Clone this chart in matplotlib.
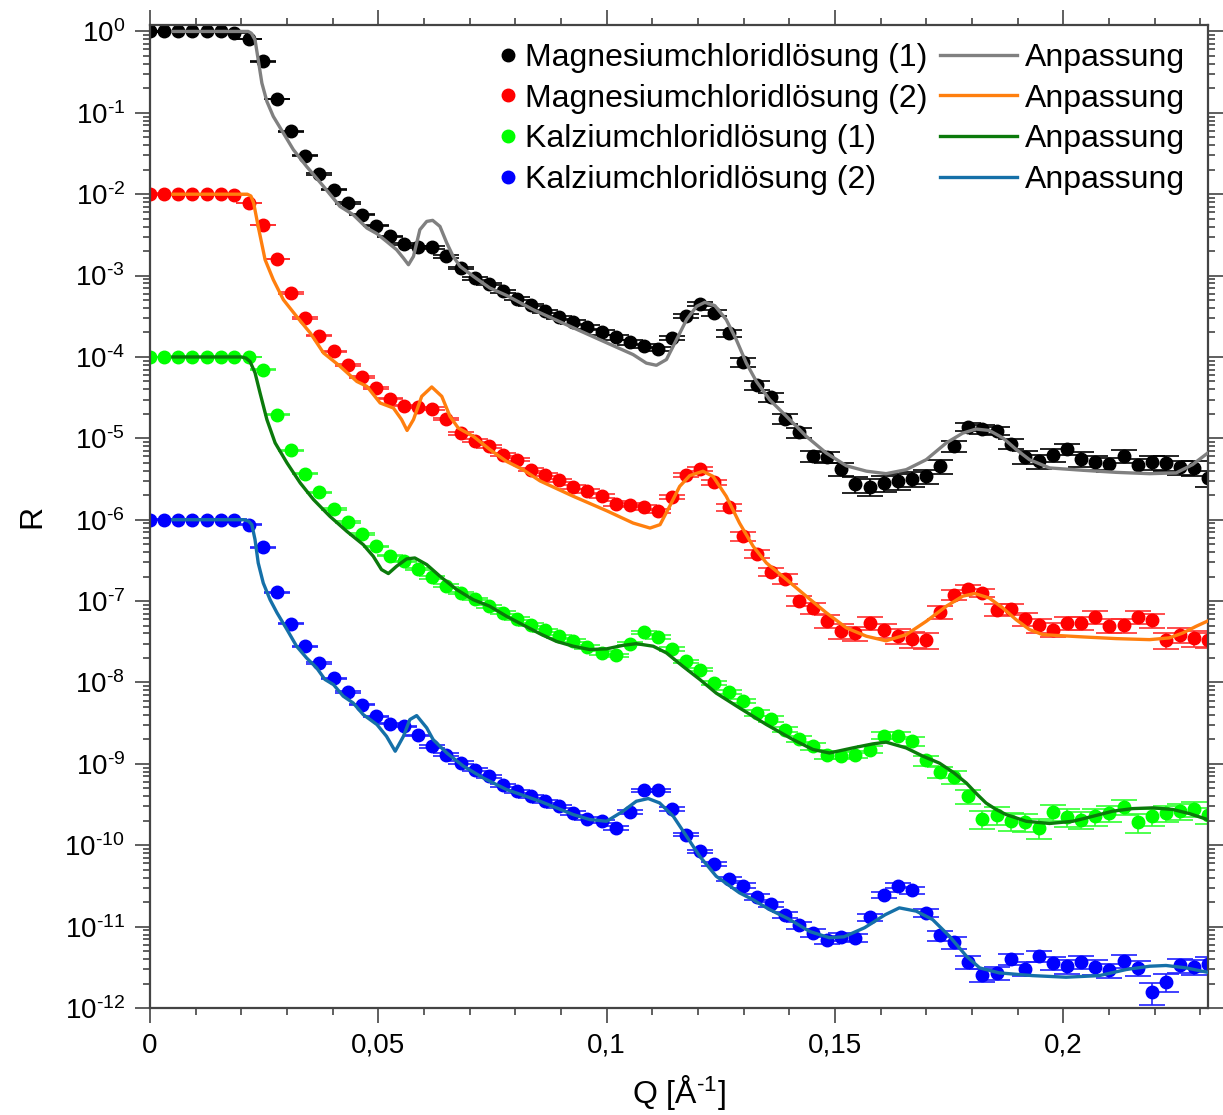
import numpy as np
import matplotlib
matplotlib.use("Agg")
import matplotlib.pyplot as plt
from matplotlib.lines import Line2D
from matplotlib.ticker import FixedLocator, LogLocator, NullFormatter, FuncFormatter

plt.rcParams['font.family'] = ['Liberation Sans', 'DejaVu Sans']
plt.rcParams['mathtext.fontset'] = 'custom'
plt.rcParams['mathtext.rm'] = 'Liberation Sans'
plt.rcParams['mathtext.it'] = 'Liberation Sans:italic'
plt.rcParams['mathtext.default'] = 'regular'

# Q-Raster der Messpunkte (1/Å)
q = [0.0000, 0.0031, 0.0062, 0.0093, 0.0124, 0.0155, 0.0185, 0.0216, 0.0247, 0.0278,
     0.0309, 0.0340, 0.0371, 0.0402, 0.0433, 0.0464, 0.0494, 0.0525, 0.0556, 0.0587,
     0.0618, 0.0649, 0.0680, 0.0711, 0.0742, 0.0773, 0.0803, 0.0834, 0.0865, 0.0896,
     0.0927, 0.0958, 0.0989, 0.1020, 0.1051, 0.1082, 0.1112, 0.1143, 0.1174, 0.1205,
     0.1236, 0.1267, 0.1298, 0.1329, 0.1360, 0.1391, 0.1421, 0.1452, 0.1483, 0.1514,
     0.1545, 0.1576, 0.1607, 0.1638, 0.1669, 0.1700, 0.1730, 0.1761, 0.1792, 0.1823,
     0.1854, 0.1885, 0.1916, 0.1947, 0.1978, 0.2009, 0.2039, 0.2070, 0.2101, 0.2132,
     0.2163, 0.2194, 0.2225, 0.2256, 0.2287, 0.2318]

# Magnesiumchloridlösung (1)
r_mg1 = [1.0, 1.0, 1.0, 1.0, 1.0, 1.0, 0.97, 0.81, 0.43, 0.148,
         0.059, 0.0297, 0.0177, 0.01135, 0.0078, 0.0056, 0.0041, 0.00303, 0.00245, 0.00225,
         0.00223, 0.00172, 0.00124, 0.00093, 0.00079, 0.00064, 0.00052, 0.000435, 0.000363, 0.000307,
         0.000269, 0.000233, 0.0002, 0.000174, 0.000151, 0.000138, 0.000126, 0.000171, 0.000321, 0.000448,
         0.000347, 0.000197, 8.6e-5, 4.48e-5, 3.2e-5, 1.75e-5, 1.19e-5, 6.1e-6, 5.9e-6, 4.2e-6,
         2.76e-6, 2.55e-6, 2.8e-6, 2.95e-6, 3.2e-6, 3.41e-6, 4.53e-6, 7.98e-6, 1.38e-5, 1.3e-5,
         1.24e-5, 8.6e-6, 5.85e-6, 5.2e-6, 6.3e-6, 7.4e-6, 5.6e-6, 5.1e-6, 4.84e-6, 6.1e-6,
         4.66e-6, 5.1e-6, 4.99e-6, 4.4e-6, 4.33e-6, 3.27e-6]

# Magnesiumchloridlösung (2)
r_mg2 = [0.0101, 0.01, 0.01, 0.01, 0.01, 0.01, 0.0099, 0.0078, 0.0042, 0.0016,
         6.1e-4, 3.0e-4, 1.83e-4, 1.17e-4, 8.0e-5, 5.7e-5, 4.16e-5, 3.07e-5, 2.52e-5, 2.4e-5,
         2.32e-5, 1.73e-5, 1.16e-5, 9.4e-6, 7.97e-6, 6.3e-6, 5.47e-6, 4.12e-6, 3.58e-6, 3.05e-6,
         2.53e-6, 2.28e-6, 1.94e-6, 1.58e-6, 1.52e-6, 1.42e-6, 1.29e-6, 1.9e-6, 3.58e-6, 4.24e-6,
         2.88e-6, 1.42e-6, 6.25e-7, 3.83e-7, 2.3e-7, 1.89e-7, 1.0e-7, 8.2e-8, 5.65e-8, 4.3e-8,
         4.06e-8, 5.4e-8, 4.4e-8, 3.77e-8, 3.4e-8, 3.3e-8, 7.3e-8, 1.2e-7, 1.42e-7, 1.26e-7,
         7.85e-8, 8.0e-8, 6.1e-8, 5.04e-8, 4.47e-8, 5.4e-8, 5.4e-8, 6.4e-8, 5.0e-8, 5.04e-8,
         6.4e-8, 5.8e-8, 3.3e-8, 3.87e-8, 3.53e-8, 3.36e-8]

# Kalziumchloridlösung (1)
r_ca1 = [1e-4, 1e-4, 1e-4, 1e-4, 1e-4, 1e-4, 1e-4, 1e-4, 7.0e-5, 1.95e-5,
         7.1e-6, 3.68e-6, 2.17e-6, 1.36e-6, 9.4e-7, 6.7e-7, 4.7e-7, 3.62e-7, 3.08e-7, 2.48e-7,
         1.96e-7, 1.55e-7, 1.26e-7, 1.06e-7, 8.65e-8, 7.2e-8, 6.1e-8, 5.14e-8, 4.38e-8, 3.7e-8,
         3.27e-8, 2.74e-8, 2.31e-8, 2.16e-8, 3.0e-8, 4.14e-8, 3.63e-8, 2.59e-8, 1.82e-8, 1.44e-8,
         9.9e-9, 7.6e-9, 5.9e-9, 4.23e-9, 3.6e-9, 2.64e-9, 2.03e-9, 1.64e-9, 1.29e-9, 1.26e-9,
         1.3e-9, 1.5e-9, 2.23e-9, 2.23e-9, 1.9e-9, 1.11e-9, 7.9e-10, 6.9e-10, 4.0e-10, 2.13e-10,
         2.38e-10, 2.01e-10, 1.92e-10, 1.64e-10, 2.57e-10, 2.23e-10, 2.07e-10, 2.27e-10, 2.5e-10, 2.96e-10,
         1.92e-10, 2.27e-10, 2.5e-10, 2.62e-10, 2.8e-10, 2.34e-10]

# Kalziumchloridlösung (2)
r_ca2 = [1e-6, 1e-6, 1e-6, 1e-6, 1e-6, 1e-6, 1e-6, 8.7e-7, 4.58e-7, 1.28e-7,
         5.3e-8, 2.79e-8, 1.74e-8, 1.12e-8, 7.6e-9, 5.36e-9, 3.85e-9, 3.13e-9, 2.9e-9, 2.25e-9,
         1.64e-9, 1.3e-9, 1.03e-9, 8.5e-10, 7.05e-10, 5.46e-10, 4.6e-10, 4.0e-10, 3.47e-10, 3.0e-10,
         2.5e-10, 2.13e-10, 1.97e-10, 1.64e-10, 2.57e-10, 4.74e-10, 4.74e-10, 2.8e-10, 1.35e-10, 8.4e-11,
         5.9e-11, 3.86e-11, 3.2e-11, 2.3e-11, 1.87e-11, 1.4e-11, 1.05e-11, 8.4e-12, 6.9e-12, 7.5e-12,
         7.3e-12, 1.3e-11, 2.47e-11, 3.2e-11, 2.78e-11, 1.48e-11, 7.8e-12, 6.4e-12, 3.69e-12, 2.58e-12,
         2.7e-12, 4.0e-12, 3.05e-12, 4.33e-12, 3.59e-12, 3.26e-12, 3.69e-12, 3.2e-12, 2.91e-12, 3.76e-12,
         3.11e-12, 1.56e-12, 2.07e-12, 3.33e-12, 3.2e-12, 3.48e-12]

# relative Fehler (dR/R)
e_mg1 = [0.01, 0.01, 0.01, 0.01, 0.01, 0.01, 0.01, 0.01, 0.01, 0.01,
         0.02, 0.02, 0.02, 0.02, 0.02, 0.02, 0.02, 0.02, 0.02, 0.02,
         0.04, 0.04, 0.04, 0.04, 0.04, 0.04, 0.04, 0.04, 0.04, 0.04,
         0.06, 0.06, 0.06, 0.06, 0.06, 0.06, 0.06, 0.06, 0.06, 0.06,
         0.08, 0.10, 0.12, 0.12, 0.12, 0.14, 0.14, 0.16, 0.16, 0.18,
         0.22, 0.24, 0.22, 0.22, 0.22, 0.2, 0.2, 0.16, 0.12, 0.12,
         0.12, 0.14, 0.18, 0.2, 0.18, 0.16, 0.2, 0.2, 0.2, 0.18,
         0.2, 0.2, 0.2, 0.2, 0.2, 0.22]
e_mg2 = [0.01, 0.01, 0.01, 0.01, 0.01, 0.01, 0.01, 0.01, 0.01, 0.01,
         0.02, 0.02, 0.02, 0.02, 0.02, 0.02, 0.02, 0.02, 0.02, 0.02,
         0.04, 0.04, 0.04, 0.04, 0.04, 0.04, 0.04, 0.04, 0.04, 0.04,
         0.06, 0.06, 0.06, 0.06, 0.06, 0.06, 0.06, 0.06, 0.06, 0.06,
         0.08, 0.10, 0.12, 0.12, 0.12, 0.14, 0.14, 0.16, 0.18, 0.2,
         0.2, 0.18, 0.2, 0.22, 0.22, 0.22, 0.18, 0.14, 0.12, 0.12,
         0.16, 0.16, 0.18, 0.2, 0.2, 0.18, 0.18, 0.18, 0.2, 0.2,
         0.18, 0.2, 0.22, 0.22, 0.22, 0.22]
e_ca1 = [0.01, 0.01, 0.01, 0.01, 0.01, 0.01, 0.01, 0.01, 0.01, 0.01,
         0.02, 0.02, 0.02, 0.02, 0.02, 0.02, 0.02, 0.02, 0.02, 0.02,
         0.04, 0.04, 0.04, 0.04, 0.04, 0.04, 0.04, 0.04, 0.04, 0.04,
         0.05, 0.05, 0.05, 0.05, 0.05, 0.05, 0.05, 0.05, 0.05, 0.05,
         0.06, 0.06, 0.06, 0.08, 0.08, 0.08, 0.08, 0.1, 0.1, 0.1,
         0.1, 0.1, 0.1, 0.1, 0.12, 0.14, 0.16, 0.18, 0.2, 0.25,
         0.25, 0.25, 0.25, 0.28, 0.22, 0.24, 0.24, 0.24, 0.22, 0.2,
         0.26, 0.24, 0.22, 0.22, 0.2, 0.22]
e_ca2 = [0.01, 0.01, 0.01, 0.01, 0.01, 0.01, 0.01, 0.01, 0.01, 0.01,
         0.02, 0.02, 0.02, 0.02, 0.02, 0.02, 0.02, 0.02, 0.02, 0.02,
         0.04, 0.04, 0.04, 0.04, 0.04, 0.04, 0.04, 0.04, 0.04, 0.04,
         0.05, 0.05, 0.05, 0.05, 0.05, 0.05, 0.05, 0.05, 0.05, 0.05,
         0.06, 0.06, 0.06, 0.08, 0.08, 0.08, 0.1, 0.12, 0.12, 0.12,
         0.12, 0.1, 0.08, 0.08, 0.1, 0.12, 0.14, 0.16, 0.18, 0.18,
         0.18, 0.16, 0.2, 0.16, 0.18, 0.2, 0.18, 0.2, 0.2, 0.18,
         0.2, 0.3, 0.25, 0.2, 0.2, 0.2]

# Anpassungen (Fits)
q_fit_mg1 = [0.005, 0.0215, 0.0222, 0.0230, 0.0237, 0.0245, 0.0256, 0.027, 0.0292, 0.0314, 0.0343,
             0.038, 0.0416, 0.0445, 0.0475, 0.0497, 0.0518, 0.054, 0.0555, 0.0566, 0.0577,
             0.0591, 0.0606, 0.0619, 0.0635, 0.065, 0.0664, 0.0679, 0.0708, 0.0744, 0.0781,
             0.0839, 0.0912, 0.0985, 0.1058, 0.1087, 0.1109, 0.1131, 0.1153, 0.1175, 0.1197,
             0.1215, 0.1237, 0.1262, 0.1284, 0.1306, 0.1328, 0.1357, 0.1394, 0.1437, 0.1481,
             0.1525, 0.1569, 0.1612, 0.1656, 0.17, 0.1744, 0.178, 0.1809, 0.1838, 0.1868,
             0.1897, 0.1926, 0.197, 0.2043, 0.2116, 0.2189, 0.2247, 0.2283, 0.2318]
r_fit_mg1 = [1.0, 1.0, 0.95, 0.79, 0.449, 0.232, 0.138, 0.0903, 0.0565, 0.0352, 0.0219,
             0.01247, 0.00708, 0.0056, 0.00384, 0.00327, 0.00263, 0.00208, 0.00164, 0.00136, 0.00172,
             0.00366, 0.00463, 0.00477, 0.00402, 0.00251, 0.00172, 0.0013, 0.00098, 0.000705, 0.00057,
             0.000381, 0.000249, 0.000163, 0.000107, 8.4e-5, 7.9e-5, 9.3e-5, 1.63e-4, 2.87e-4, 4.19e-4,
             4.69e-4, 4.27e-4, 2.87e-4, 1.63e-4, 8.4e-5, 5.0e-5, 2.98e-5, 1.86e-5, 1.06e-5, 6.6e-6,
             4.6e-6, 3.95e-6, 3.68e-6, 4.12e-6, 5.47e-6, 8.8e-6, 1.16e-5, 1.3e-5, 1.25e-5, 1.01e-5,
             7.3e-6, 5.47e-6, 4.33e-6, 4.05e-6, 3.82e-6, 3.68e-6, 3.76e-6, 4.75e-6, 6.7e-6]

q_fit_mg2 = [0.005, 0.0213, 0.0221, 0.0227, 0.0237, 0.0252, 0.027, 0.0292, 0.0321, 0.0351, 0.038,
             0.0416, 0.0453, 0.0475, 0.0504, 0.0533, 0.0551, 0.0563, 0.0577, 0.0595, 0.0617,
             0.0639, 0.0657, 0.0675, 0.0708, 0.0744, 0.0781, 0.0817, 0.0854, 0.0927, 0.1,
             0.1058, 0.1095, 0.1117, 0.1138, 0.116, 0.1182, 0.1211, 0.1233, 0.1262, 0.1291,
             0.1321, 0.135, 0.1394, 0.1437, 0.1481, 0.1525, 0.1569, 0.1612, 0.1656, 0.17,
             0.1744, 0.178, 0.1806, 0.1838, 0.1868, 0.1897, 0.1926, 0.1955, 0.2043, 0.2116,
             0.2189, 0.2232, 0.2262, 0.2291, 0.2318]
r_fit_mg2 = [0.01, 0.01, 0.0095, 7.8e-3, 4.0e-3, 1.57e-3, 8.9e-4, 5.06e-4, 3.15e-4, 1.97e-4, 1.12e-4,
             7.7e-5, 5.0e-5, 4.35e-5, 2.72e-5, 2.36e-5, 1.7e-5, 1.25e-5, 1.7e-5, 3.28e-5, 4.28e-5,
             3.28e-5, 1.86e-5, 1.34e-5, 1.06e-5, 7.3e-6, 5.2e-6, 4.12e-6, 3.0e-6, 1.94e-6, 1.29e-6,
             9.1e-7, 7.9e-7, 8.7e-7, 1.46e-6, 2.57e-6, 3.48e-6, 3.94e-6, 3.41e-6, 1.94e-6, 9.1e-7,
             4.7e-7, 2.94e-7, 1.84e-7, 1.15e-7, 7.2e-8, 4.69e-8, 3.7e-8, 3.25e-8, 3.87e-8, 5.65e-8,
             8.65e-8, 1.15e-7, 1.24e-7, 1.09e-7, 8.2e-8, 5.9e-8, 4.47e-8, 3.87e-8, 3.63e-8, 3.46e-8,
             3.36e-8, 3.53e-8, 4.06e-8, 4.9e-8, 5.75e-8]

q_fit_ca1 = [0.005, 0.0200, 0.0210, 0.0219, 0.023, 0.0241, 0.0256, 0.0274, 0.03, 0.0329, 0.0358,
             0.0394, 0.0431, 0.0467, 0.0489, 0.0507, 0.0522, 0.054, 0.0562, 0.058, 0.0606,
             0.0635, 0.0672, 0.0708, 0.0744, 0.0781, 0.0854, 0.089, 0.0927, 0.0963, 0.1,
             0.1036, 0.1065, 0.1102, 0.1131, 0.1167, 0.1204, 0.124, 0.1291, 0.135, 0.1408,
             0.1452, 0.1488, 0.1539, 0.1583, 0.1612, 0.1656, 0.1693, 0.1729, 0.1760, 0.1788, 0.1810, 0.1831,
             0.1853, 0.1875, 0.1919, 0.197, 0.2021, 0.2065, 0.2108, 0.2152, 0.2196, 0.224, 0.2276,
             0.2316]
r_fit_ca1 = [1e-4, 1e-4, 9.7e-5, 8.8e-5, 6.4e-5, 3.61e-5, 1.7e-5, 8.8e-6, 4.99e-6, 2.83e-6, 1.77e-6,
             1.1e-6, 7.2e-7, 4.94e-7, 3.55e-7, 2.44e-7, 2.18e-7, 2.68e-7, 3.3e-7, 3.39e-7, 2.81e-7,
             2.02e-7, 1.38e-7, 1.04e-7, 8.65e-8, 6.5e-8, 3.97e-8, 3.2e-8, 2.79e-8, 2.54e-8, 2.59e-8,
             2.86e-8, 3.0e-8, 2.79e-8, 2.31e-8, 1.58e-8, 1.09e-8, 7.4e-9, 4.87e-9, 3.04e-9, 1.99e-9,
             1.5e-9, 1.36e-9, 1.57e-9, 1.76e-9, 1.85e-9, 1.57e-9, 1.24e-9, 1.02e-9, 7.8e-10, 5.8e-10, 4.3e-10, 3.3e-10,
             2.75e-10, 2.38e-10, 1.97e-10, 1.85e-10, 1.97e-10, 2.27e-10, 2.62e-10, 2.82e-10, 2.88e-10, 2.75e-10, 2.45e-10,
             2.07e-10]

q_fit_ca2 = [0.005, 0.0205, 0.0216, 0.0223, 0.023, 0.0237, 0.0248, 0.0263, 0.0278, 0.03, 0.0321,
             0.0343, 0.0365, 0.0383, 0.0402, 0.0423, 0.0445, 0.0467, 0.0497, 0.0518, 0.0537,
             0.0555, 0.0569, 0.0584, 0.0606, 0.062, 0.065, 0.0686, 0.073, 0.0781, 0.0854,
             0.089, 0.0927, 0.0963, 0.1, 0.1036, 0.1065, 0.1091, 0.1116, 0.1146, 0.1175,
             0.1204, 0.124, 0.1291, 0.132, 0.1357, 0.14, 0.1445, 0.1488, 0.152, 0.1565,
             0.161, 0.1641, 0.1678, 0.1714, 0.1751, 0.1788, 0.1817, 0.186, 0.1933, 0.2006,
             0.2079, 0.2138, 0.2189, 0.2225, 0.2269, 0.2316]
r_fit_ca2 = [1e-6, 1e-6, 9.6e-7, 8.7e-7, 5.7e-7, 2.94e-7, 1.67e-7, 1.04e-7, 7.2e-8, 4.47e-8, 2.79e-8,
             2.0e-8, 1.51e-8, 1.09e-8, 9.4e-9, 6.8e-9, 5.6e-9, 4.03e-9, 3.04e-9, 2.18e-9, 1.43e-9,
             2.18e-9, 3.5e-9, 3.92e-9, 2.77e-9, 1.99e-9, 1.36e-9, 9.4e-10, 6.7e-10, 4.83e-10, 3.47e-10,
             2.88e-10, 2.38e-10, 2.07e-10, 1.97e-10, 2.62e-10, 3.47e-10, 3.75e-10, 3.31e-10, 2.27e-10, 1.29e-10,
             7.3e-11, 4.16e-11, 2.6e-11, 2.15e-11, 1.62e-11, 1.23e-11, 8.7e-12, 7.3e-12, 7.5e-12, 9.7e-12,
             1.4e-11, 1.7e-11, 1.55e-11, 1.22e-11, 7.6e-12, 4.33e-12, 3.11e-12, 2.7e-12, 2.5e-12, 2.39e-12,
             2.5e-12, 2.97e-12, 3.26e-12, 3.33e-12, 3.11e-12, 2.75e-12]

labels = ["Magnesiumchloridlösung (1)", "Magnesiumchloridlösung (2)",
          "Kalziumchloridlösung (1)", "Kalziumchloridlösung (2)"]
x_ticks = [0, 0.05, 0.1, 0.15, 0.2]
x_ticklabels = ["0", "0,05", "0,1", "0,15", "0,2"]

data_colors = ["#000000", "#ff0000", "#00ff00", "#0000ff"]
err_colors = ["#000000", "#ff3030", "#30ff30", "#2020ff"]
fit_colors = ["#808080", "#ff7f0e", "#0b7a0b", "#1570a8"]

fig = plt.figure(figsize=(12.23, 11.15), dpi=100)
ax = fig.add_axes([150/1223, 1 - 1008/1115, 1058/1223, 983/1115])

series = [r_mg1, r_mg2, r_ca1, r_ca2]
errs = [e_mg1, e_mg2, e_ca1, e_ca2]
for r, e, c, ec in zip(series, errs, data_colors, err_colors):
    r = np.array(r)
    ax.errorbar(q, r, yerr=r * np.array(e), fmt='o', color=c, ecolor=ec,
                markersize=9, elinewidth=1.2, capsize=9.5, capthick=1.2, zorder=2)

fits = [(q_fit_mg1, r_fit_mg1), (q_fit_mg2, r_fit_mg2),
        (q_fit_ca1, r_fit_ca1), (q_fit_ca2, r_fit_ca2)]
for (qf, rf), c in zip(fits, fit_colors):
    ax.plot(qf, rf, color=c, lw=2.4, zorder=3)

ax.set_yscale('log')
ax.set_xlim(0, 0.2317)
ax.set_ylim(1e-12, 1.2)

ax.xaxis.set_major_locator(FixedLocator(x_ticks))
ax.set_xticklabels(x_ticklabels)
ax.xaxis.set_minor_locator(FixedLocator(np.arange(0, 0.24, 0.01)))
ax.yaxis.set_major_locator(LogLocator(base=10, numticks=20))
ax.yaxis.set_minor_locator(LogLocator(base=10, subs=np.arange(2, 10), numticks=20))
ax.yaxis.set_minor_formatter(NullFormatter())


def exp_label(v, pos):
    n = int(round(np.log10(v)))
    if n < 0:
        return r"$10^{\text{-%d}}$" % (-n)
    return r"$10^{%d}$" % n


ax.yaxis.set_major_formatter(FuncFormatter(exp_label))

spine_c = "#444444"
for s in ax.spines.values():
    s.set_color(spine_c)
    s.set_linewidth(1.6)
ax.tick_params(which='both', direction='out', top=True, right=True,
               color=spine_c, width=1.2, labelsize=20, pad=7)
ax.tick_params(which='major', length=11)
ax.tick_params(which='minor', length=5)

ax.set_xlabel(r"Q [Å$^{\text{-1}}$]", fontsize=23, labelpad=10)
ax.set_ylabel("R", fontsize=23, labelpad=12)

# Legende: Messdaten und Anpassungen getrennt
h_data = [Line2D([], [], ls='none', marker='o', markersize=9, color=c) for c in data_colors]
leg1 = ax.legend(h_data, labels, loc='upper left', bbox_to_anchor=(0.3308, 0.982),
                 frameon=False, fontsize=23, borderpad=0, borderaxespad=0,
                 handlelength=0.5, handletextpad=0.28, labelspacing=0.34)
ax.add_artist(leg1)
h_fit = [Line2D([], [], color=c, lw=2.4) for c in fit_colors]
ax.legend(h_fit, ["Anpassung"] * 4, loc='upper left', bbox_to_anchor=(0.7467, 0.982),
          frameon=False, fontsize=23, borderpad=0, borderaxespad=0,
          handlelength=2.41, handletextpad=0.25, labelspacing=0.34)

fig.savefig("out.png", dpi=100)
